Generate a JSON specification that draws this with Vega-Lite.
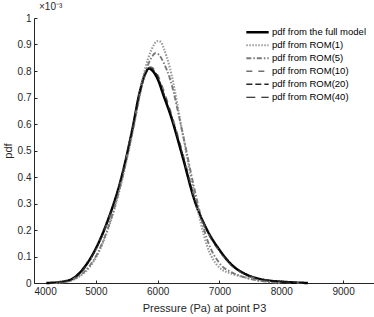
{
  "$schema": "https://vega.github.io/schema/vega-lite/v6.json",
  "autosize": "none",
  "width": 340,
  "height": 265,
  "padding": {"left": 34, "top": 18, "right": 0, "bottom": 34},
  "background": "white",
  "config": {
    "view": {"stroke": null},
    "font": "Liberation Sans",
    "axis": {"domainColor": "#262626", "tickColor": "#262626", "labelColor": "#262626", "titleColor": "#262626", "labelFontSize": 10, "titleFontSize": 11, "titleFontWeight": "normal", "grid": false, "tickSize": -3, "labelPadding": 6}
  },
  "title": {"text": "×10⁻³", "anchor": "start", "frame": "group", "fontSize": 10, "fontWeight": "normal", "color": "#262626", "dx": 5, "offset": 1, "font": "Liberation Sans"},
  "data": {"values": [
    {"p": 4200, "v": 0.0, "s": "pdf from the full model"},
    {"p": 4400, "v": 0.003, "s": "pdf from the full model"},
    {"p": 4600, "v": 0.013, "s": "pdf from the full model"},
    {"p": 4800, "v": 0.055, "s": "pdf from the full model"},
    {"p": 5000, "v": 0.13, "s": "pdf from the full model"},
    {"p": 5200, "v": 0.24, "s": "pdf from the full model"},
    {"p": 5400, "v": 0.385, "s": "pdf from the full model"},
    {"p": 5600, "v": 0.59, "s": "pdf from the full model"},
    {"p": 5700, "v": 0.71, "s": "pdf from the full model"},
    {"p": 5800, "v": 0.79, "s": "pdf from the full model"},
    {"p": 5860, "v": 0.81, "s": "pdf from the full model"},
    {"p": 5900, "v": 0.805, "s": "pdf from the full model"},
    {"p": 6000, "v": 0.77, "s": "pdf from the full model"},
    {"p": 6100, "v": 0.705, "s": "pdf from the full model"},
    {"p": 6200, "v": 0.64, "s": "pdf from the full model"},
    {"p": 6400, "v": 0.48, "s": "pdf from the full model"},
    {"p": 6600, "v": 0.31, "s": "pdf from the full model"},
    {"p": 6800, "v": 0.2, "s": "pdf from the full model"},
    {"p": 7000, "v": 0.125, "s": "pdf from the full model"},
    {"p": 7200, "v": 0.068, "s": "pdf from the full model"},
    {"p": 7400, "v": 0.036, "s": "pdf from the full model"},
    {"p": 7600, "v": 0.018, "s": "pdf from the full model"},
    {"p": 7800, "v": 0.009, "s": "pdf from the full model"},
    {"p": 8000, "v": 0.005, "s": "pdf from the full model"},
    {"p": 8200, "v": 0.002, "s": "pdf from the full model"},
    {"p": 8430, "v": 0.0, "s": "pdf from the full model"},

    {"p": 4300, "v": 0.0, "s": "pdf from ROM(1)"},
    {"p": 4500, "v": 0.004, "s": "pdf from ROM(1)"},
    {"p": 4700, "v": 0.02, "s": "pdf from ROM(1)"},
    {"p": 4900, "v": 0.06, "s": "pdf from ROM(1)"},
    {"p": 5000, "v": 0.095, "s": "pdf from ROM(1)"},
    {"p": 5200, "v": 0.205, "s": "pdf from ROM(1)"},
    {"p": 5400, "v": 0.365, "s": "pdf from ROM(1)"},
    {"p": 5600, "v": 0.575, "s": "pdf from ROM(1)"},
    {"p": 5800, "v": 0.81, "s": "pdf from ROM(1)"},
    {"p": 5900, "v": 0.88, "s": "pdf from ROM(1)"},
    {"p": 6000, "v": 0.913, "s": "pdf from ROM(1)"},
    {"p": 6050, "v": 0.91, "s": "pdf from ROM(1)"},
    {"p": 6100, "v": 0.885, "s": "pdf from ROM(1)"},
    {"p": 6200, "v": 0.81, "s": "pdf from ROM(1)"},
    {"p": 6400, "v": 0.57, "s": "pdf from ROM(1)"},
    {"p": 6600, "v": 0.33, "s": "pdf from ROM(1)"},
    {"p": 6800, "v": 0.14, "s": "pdf from ROM(1)"},
    {"p": 7000, "v": 0.058, "s": "pdf from ROM(1)"},
    {"p": 7200, "v": 0.035, "s": "pdf from ROM(1)"},
    {"p": 7400, "v": 0.022, "s": "pdf from ROM(1)"},
    {"p": 7600, "v": 0.012, "s": "pdf from ROM(1)"},
    {"p": 7800, "v": 0.005, "s": "pdf from ROM(1)"},
    {"p": 8000, "v": 0.001, "s": "pdf from ROM(1)"},

    {"p": 4300, "v": 0.0, "s": "pdf from ROM(5)"},
    {"p": 4500, "v": 0.004, "s": "pdf from ROM(5)"},
    {"p": 4700, "v": 0.022, "s": "pdf from ROM(5)"},
    {"p": 4900, "v": 0.065, "s": "pdf from ROM(5)"},
    {"p": 5000, "v": 0.1, "s": "pdf from ROM(5)"},
    {"p": 5200, "v": 0.21, "s": "pdf from ROM(5)"},
    {"p": 5400, "v": 0.37, "s": "pdf from ROM(5)"},
    {"p": 5600, "v": 0.58, "s": "pdf from ROM(5)"},
    {"p": 5800, "v": 0.795, "s": "pdf from ROM(5)"},
    {"p": 5900, "v": 0.85, "s": "pdf from ROM(5)"},
    {"p": 5960, "v": 0.867, "s": "pdf from ROM(5)"},
    {"p": 6000, "v": 0.865, "s": "pdf from ROM(5)"},
    {"p": 6100, "v": 0.83, "s": "pdf from ROM(5)"},
    {"p": 6200, "v": 0.77, "s": "pdf from ROM(5)"},
    {"p": 6400, "v": 0.57, "s": "pdf from ROM(5)"},
    {"p": 6600, "v": 0.35, "s": "pdf from ROM(5)"},
    {"p": 6800, "v": 0.165, "s": "pdf from ROM(5)"},
    {"p": 7000, "v": 0.075, "s": "pdf from ROM(5)"},
    {"p": 7200, "v": 0.04, "s": "pdf from ROM(5)"},
    {"p": 7400, "v": 0.022, "s": "pdf from ROM(5)"},
    {"p": 7600, "v": 0.01, "s": "pdf from ROM(5)"},
    {"p": 7800, "v": 0.004, "s": "pdf from ROM(5)"},
    {"p": 8000, "v": 0.001, "s": "pdf from ROM(5)"},

    {"p": 4250, "v": 0.0, "s": "pdf from ROM(10)"},
    {"p": 4400, "v": 0.002, "s": "pdf from ROM(10)"},
    {"p": 4600, "v": 0.011, "s": "pdf from ROM(10)"},
    {"p": 4800, "v": 0.05, "s": "pdf from ROM(10)"},
    {"p": 5000, "v": 0.125, "s": "pdf from ROM(10)"},
    {"p": 5200, "v": 0.235, "s": "pdf from ROM(10)"},
    {"p": 5400, "v": 0.38, "s": "pdf from ROM(10)"},
    {"p": 5600, "v": 0.585, "s": "pdf from ROM(10)"},
    {"p": 5700, "v": 0.7, "s": "pdf from ROM(10)"},
    {"p": 5800, "v": 0.785, "s": "pdf from ROM(10)"},
    {"p": 5880, "v": 0.815, "s": "pdf from ROM(10)"},
    {"p": 5950, "v": 0.805, "s": "pdf from ROM(10)"},
    {"p": 6000, "v": 0.785, "s": "pdf from ROM(10)"},
    {"p": 6100, "v": 0.725, "s": "pdf from ROM(10)"},
    {"p": 6200, "v": 0.655, "s": "pdf from ROM(10)"},
    {"p": 6400, "v": 0.495, "s": "pdf from ROM(10)"},
    {"p": 6600, "v": 0.32, "s": "pdf from ROM(10)"},
    {"p": 6800, "v": 0.195, "s": "pdf from ROM(10)"},
    {"p": 7000, "v": 0.12, "s": "pdf from ROM(10)"},
    {"p": 7200, "v": 0.065, "s": "pdf from ROM(10)"},
    {"p": 7400, "v": 0.034, "s": "pdf from ROM(10)"},
    {"p": 7600, "v": 0.017, "s": "pdf from ROM(10)"},
    {"p": 7800, "v": 0.008, "s": "pdf from ROM(10)"},
    {"p": 8000, "v": 0.004, "s": "pdf from ROM(10)"},
    {"p": 8200, "v": 0.001, "s": "pdf from ROM(10)"},
    {"p": 8400, "v": 0.0, "s": "pdf from ROM(10)"},

    {"p": 4250, "v": 0.0, "s": "pdf from ROM(20)"},
    {"p": 4400, "v": 0.003, "s": "pdf from ROM(20)"},
    {"p": 4600, "v": 0.012, "s": "pdf from ROM(20)"},
    {"p": 4800, "v": 0.052, "s": "pdf from ROM(20)"},
    {"p": 5000, "v": 0.128, "s": "pdf from ROM(20)"},
    {"p": 5200, "v": 0.238, "s": "pdf from ROM(20)"},
    {"p": 5400, "v": 0.383, "s": "pdf from ROM(20)"},
    {"p": 5600, "v": 0.588, "s": "pdf from ROM(20)"},
    {"p": 5700, "v": 0.705, "s": "pdf from ROM(20)"},
    {"p": 5800, "v": 0.788, "s": "pdf from ROM(20)"},
    {"p": 5870, "v": 0.812, "s": "pdf from ROM(20)"},
    {"p": 5950, "v": 0.8, "s": "pdf from ROM(20)"},
    {"p": 6000, "v": 0.78, "s": "pdf from ROM(20)"},
    {"p": 6100, "v": 0.715, "s": "pdf from ROM(20)"},
    {"p": 6200, "v": 0.648, "s": "pdf from ROM(20)"},
    {"p": 6400, "v": 0.488, "s": "pdf from ROM(20)"},
    {"p": 6600, "v": 0.315, "s": "pdf from ROM(20)"},
    {"p": 6800, "v": 0.198, "s": "pdf from ROM(20)"},
    {"p": 7000, "v": 0.122, "s": "pdf from ROM(20)"},
    {"p": 7200, "v": 0.067, "s": "pdf from ROM(20)"},
    {"p": 7400, "v": 0.035, "s": "pdf from ROM(20)"},
    {"p": 7600, "v": 0.018, "s": "pdf from ROM(20)"},
    {"p": 7800, "v": 0.009, "s": "pdf from ROM(20)"},
    {"p": 8000, "v": 0.004, "s": "pdf from ROM(20)"},
    {"p": 8200, "v": 0.002, "s": "pdf from ROM(20)"},
    {"p": 8400, "v": 0.0, "s": "pdf from ROM(20)"},

    {"p": 4220, "v": 0.0, "s": "pdf from ROM(40)"},
    {"p": 4400, "v": 0.003, "s": "pdf from ROM(40)"},
    {"p": 4600, "v": 0.013, "s": "pdf from ROM(40)"},
    {"p": 4800, "v": 0.054, "s": "pdf from ROM(40)"},
    {"p": 5000, "v": 0.13, "s": "pdf from ROM(40)"},
    {"p": 5200, "v": 0.24, "s": "pdf from ROM(40)"},
    {"p": 5400, "v": 0.385, "s": "pdf from ROM(40)"},
    {"p": 5600, "v": 0.59, "s": "pdf from ROM(40)"},
    {"p": 5700, "v": 0.708, "s": "pdf from ROM(40)"},
    {"p": 5800, "v": 0.79, "s": "pdf from ROM(40)"},
    {"p": 5860, "v": 0.808, "s": "pdf from ROM(40)"},
    {"p": 5900, "v": 0.803, "s": "pdf from ROM(40)"},
    {"p": 6000, "v": 0.772, "s": "pdf from ROM(40)"},
    {"p": 6100, "v": 0.708, "s": "pdf from ROM(40)"},
    {"p": 6200, "v": 0.643, "s": "pdf from ROM(40)"},
    {"p": 6400, "v": 0.483, "s": "pdf from ROM(40)"},
    {"p": 6600, "v": 0.312, "s": "pdf from ROM(40)"},
    {"p": 6800, "v": 0.2, "s": "pdf from ROM(40)"},
    {"p": 7000, "v": 0.124, "s": "pdf from ROM(40)"},
    {"p": 7200, "v": 0.068, "s": "pdf from ROM(40)"},
    {"p": 7400, "v": 0.036, "s": "pdf from ROM(40)"},
    {"p": 7600, "v": 0.018, "s": "pdf from ROM(40)"},
    {"p": 7800, "v": 0.009, "s": "pdf from ROM(40)"},
    {"p": 8000, "v": 0.005, "s": "pdf from ROM(40)"},
    {"p": 8200, "v": 0.002, "s": "pdf from ROM(40)"},
    {"p": 8420, "v": 0.0, "s": "pdf from ROM(40)"}
  ]},
  "mark": {"type": "line", "interpolate": "monotone"},
  "encoding": {
    "x": {"field": "p", "type": "quantitative", "scale": {"domain": [4000, 9500], "nice": false}, "axis": {"values": [4000, 5000, 6000, 7000, 8000, 9000], "format": "d", "title": "Pressure (Pa) at point P3", "titlePadding": 6}},
    "y": {"field": "v", "type": "quantitative", "scale": {"domain": [0, 1], "nice": false}, "axis": {"values": [0, 0.1, 0.2, 0.3, 0.4, 0.5, 0.6, 0.7, 0.8, 0.9, 1], "format": "~g", "title": "pdf", "titlePadding": 4}},
    "color": {"field": "s", "type": "nominal", "scale": {"domain": ["pdf from the full model", "pdf from ROM(1)", "pdf from ROM(5)", "pdf from ROM(10)", "pdf from ROM(20)", "pdf from ROM(40)"], "range": ["#000000", "#9a9a9a", "#7a7a7a", "#707070", "#262626", "#000000"]},
      "legend": {"title": null, "orient": "none", "legendX": 211, "legendY": 8, "symbolType": "stroke", "symbolSize": 500, "labelFontSize": 9.5, "labelColor": "#000000", "labelOffset": 2, "rowPadding": 0, "clipHeight": 12.5}},
    "strokeDash": {"field": "s", "type": "nominal", "scale": {"domain": ["pdf from the full model", "pdf from ROM(1)", "pdf from ROM(5)", "pdf from ROM(10)", "pdf from ROM(20)", "pdf from ROM(40)"], "range": [[1, 0], [1.5, 1.5], [5, 2, 1.5, 2], [6, 6], [6, 3], [9, 6]]}},
    "strokeWidth": {"field": "s", "type": "nominal", "scale": {"domain": ["pdf from the full model", "pdf from ROM(1)", "pdf from ROM(5)", "pdf from ROM(10)", "pdf from ROM(20)", "pdf from ROM(40)"], "range": [2.5, 1, 1.5, 2, 2, 2.5]}}
  }
}
